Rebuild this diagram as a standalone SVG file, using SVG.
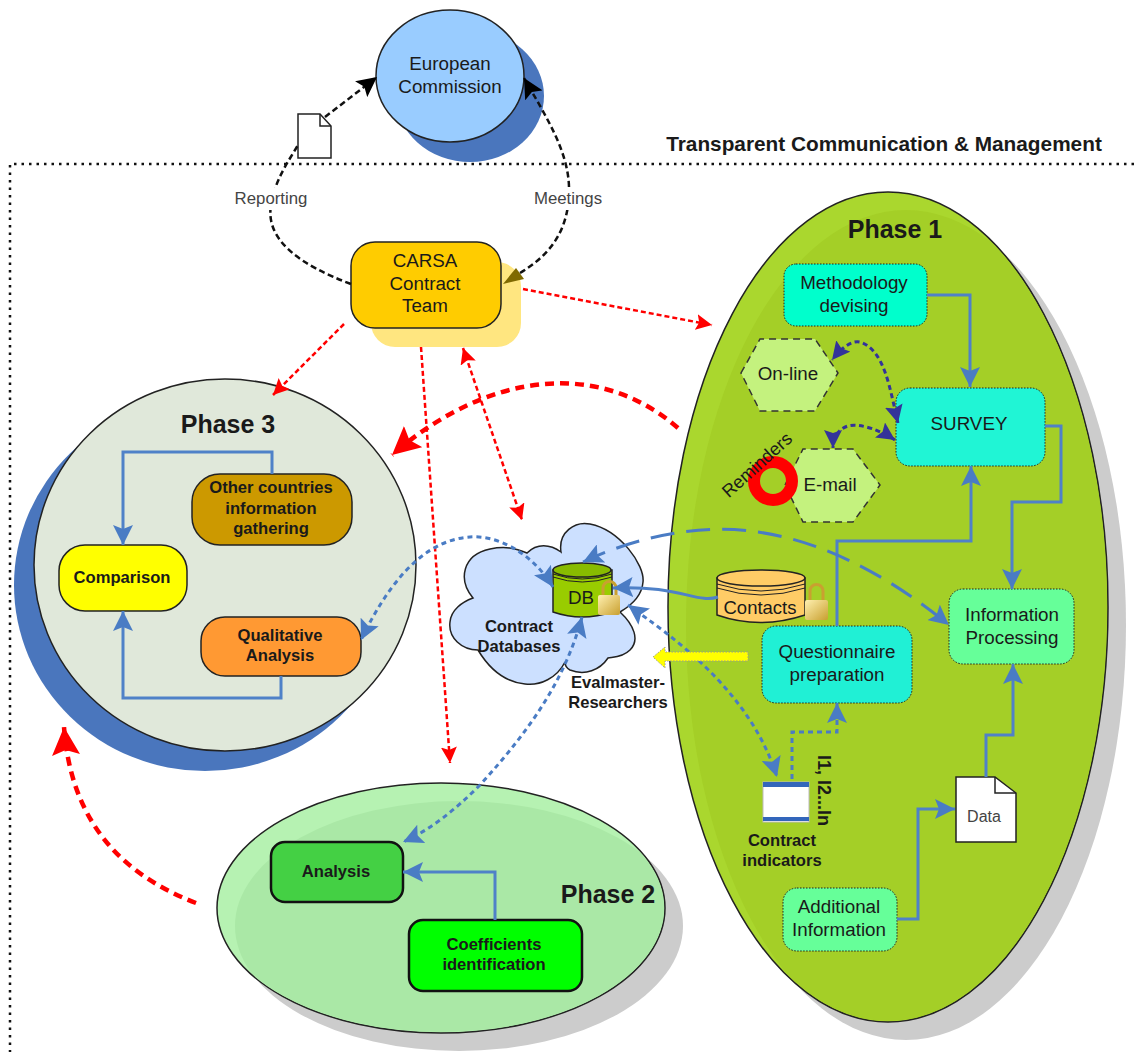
<svg xmlns="http://www.w3.org/2000/svg" width="1134" height="1053" viewBox="0 0 1134 1053">
<style>
text{font-family:"Liberation Sans",Arial,sans-serif;fill:#1a1a1a;text-anchor:middle}
.t{font-size:18.8px}
.s{font-size:16.8px;fill:#444}
.b{font-size:16.6px;font-weight:bold}
.ph{font-size:25px;font-weight:bold}
.o{stroke:#222;stroke-width:1.5}
.dot{stroke:#222;stroke-width:1;stroke-dasharray:1.5 1.5}
.hex{fill:#c4f27e;stroke:#333;stroke-width:1.5;stroke-dasharray:7 5}
.fl{fill:none;stroke:#4f81c8;stroke-width:3}
.bd{fill:none;stroke:#4a7cc4;stroke-width:3;stroke-dasharray:5 4}
.rd{fill:none;stroke:#f00;stroke-width:2.5;stroke-dasharray:5 3}
.rb{fill:none;stroke:#f00;stroke-width:4.5;stroke-dasharray:9 6}
.kd{fill:none;stroke:#111;stroke-width:2.5;stroke-dasharray:6 3.5}
.pd{fill:none;stroke:#33339a;stroke-width:3;stroke-dasharray:5 3.5}
.ld{fill:none;stroke:#4a7cc4;stroke-width:3;stroke-dasharray:24 12}
.bg{fill:#fff}
.shk{fill:none;stroke:#c9a030;stroke-width:3}
</style>
<defs>
<marker id="ab" markerUnits="userSpaceOnUse" markerWidth="22" markerHeight="20" refX="20" refY="10" orient="auto-start-reverse"><path d="M0 0L20 10L0 20L4 10Z" fill="#4a7cc4"/></marker>
<marker id="ak" markerUnits="userSpaceOnUse" markerWidth="22" markerHeight="20" refX="20" refY="10" orient="auto-start-reverse"><path d="M0 0L20 10L0 20L4 10Z" fill="#000"/></marker>
<marker id="ap" markerUnits="userSpaceOnUse" markerWidth="20" markerHeight="18" refX="18" refY="9" orient="auto-start-reverse"><path d="M0 0L18 9L0 18L3 9Z" fill="#33339a"/></marker>
<marker id="ar" markerUnits="userSpaceOnUse" markerWidth="18" markerHeight="16" refX="16" refY="8" orient="auto-start-reverse"><path d="M0 0L16 8L0 16L3 8Z" fill="#f00"/></marker>
<marker id="arb" markerUnits="userSpaceOnUse" markerWidth="30" markerHeight="28" refX="28" refY="14" orient="auto-start-reverse"><path d="M0 0L28 14L0 28L5 14Z" fill="#f00"/></marker>
<linearGradient id="lock" x1="0" y1="0" x2="1" y2="1"><stop offset="0" stop-color="#fff0b0"/><stop offset="1" stop-color="#c9a030"/></linearGradient>
<clipPath id="c1"><ellipse cx="888" cy="607" rx="219" ry="414"/></clipPath>
<clipPath id="c2"><ellipse cx="441" cy="908" rx="223" ry="124"/></clipPath>
</defs>
<rect width="1134" height="1053" fill="#fff"/>
<path d="M1134 164H10V1052" fill="none" stroke="#111" stroke-width="2.5" stroke-dasharray="2.5 5"/>
<text x="884" y="151" style="font-size:20.8px;font-weight:bold">Transparent Communication &amp; Management</text>

<g id="phase1">
<ellipse cx="906" cy="625" rx="220" ry="415" fill="#ccc"/>
<ellipse cx="888" cy="607" rx="220" ry="415" fill="#aad72e" stroke="#222" stroke-width="1.5"/>
<ellipse cx="906" cy="625" rx="220" ry="415" fill="#a4cf27" clip-path="url(#c1)"/>
<text class="ph" x="895" y="238">Phase 1</text>
</g>
<g id="phase3">
<ellipse cx="205" cy="585" rx="191" ry="186" fill="#4a76bd"/>
<ellipse cx="225" cy="565" rx="191" ry="186" fill="#e0e8da" stroke="#222" stroke-width="1.5"/>
<text class="ph" x="228" y="433">Phase 3</text>
</g>
<g id="phase2">
<ellipse cx="459" cy="926" rx="224" ry="125" fill="#ccc"/>
<ellipse cx="441" cy="908" rx="224" ry="125" fill="#b6f2b2" stroke="#222" stroke-width="1.5"/>
<ellipse cx="459" cy="926" rx="224" ry="125" fill="#aae8a6" clip-path="url(#c2)"/>
<text class="ph" x="608" y="903">Phase 2</text>
</g>

<g id="commission">
<ellipse cx="470" cy="96" rx="74" ry="66" fill="#4a76bd"/>
<ellipse cx="450" cy="76" rx="74" ry="66" fill="#99ccff" class="o"/>
<text class="t" x="450" y="70">European</text><text class="t" x="450" y="93">Commission</text>
</g>
<g id="carsa">
<rect x="371" y="262" width="150" height="85" rx="24" fill="#ffe680"/>
<rect x="351" y="242" width="150" height="86" rx="24" fill="#ffcc00" class="o"/>
<text class="t" x="425" y="267">CARSA</text><text class="t" x="425" y="290">Contract</text><text class="t" x="425" y="312">Team</text>
</g>
<g id="doc1">
<path d="M298 114H320L331 126V158H298Z" fill="#fff" stroke="#222" stroke-width="1.5"/>
<path d="M320 114V126H331" fill="none" stroke="#222" stroke-width="1.5"/>
</g>

<g id="methodology"><rect x="784" y="264" width="143" height="62" rx="12" fill="#00ffcc" class="dot"/><text class="t" x="854" y="289">Methodology</text><text class="t" x="854" y="312">devising</text></g>
<g id="online"><path class="hex" d="M741 373L760 339H815L838 373L815 411H760Z"/><text class="t" x="788" y="380">On-line</text></g>
<g id="email"><path class="hex" d="M785 485L803 449H853L880 485L853 522H803Z"/><text class="t" x="830" y="491">E-mail</text></g>
<g id="survey"><rect x="896" y="388" width="149" height="78" rx="14" fill="#20f5d5" class="dot"/><text class="t" x="969" y="430">SURVEY</text></g>
<g id="questionnaire"><rect x="762" y="626" width="150" height="77" rx="14" fill="#20f0d5" class="dot"/><text class="t" x="837" y="658">Questionnaire</text><text class="t" x="837" y="681">preparation</text></g>
<g id="processing"><rect x="949" y="589" width="125" height="75" rx="14" fill="#66ff99" class="dot"/><text class="t" x="1012" y="621">Information</text><text class="t" x="1012" y="644">Processing</text></g>
<g id="additional"><rect x="783" y="888" width="114" height="63" rx="14" fill="#66ff99" class="dot"/><text class="t" x="839" y="913">Additional</text><text class="t" x="839" y="936">Information</text></g>
<g id="data"><path d="M956 777H995L1016 793V842H956Z" fill="#fff" stroke="#222" stroke-width="1.5"/><path d="M995 777V793H1016" fill="none" stroke="#222" stroke-width="1.5"/><text x="984" y="822" style="font-size:16px;fill:#444">Data</text></g>
<g id="reminders">
<circle cx="773" cy="481" r="19" fill="none" stroke="#f00" stroke-width="12"/>
<text class="t" transform="translate(757 465) rotate(-42)" x="0" y="6" style="font-size:18px">Reminders</text>
</g>
<g id="other"><rect x="192" y="474" width="160" height="71" rx="28" fill="#cc9900" class="o"/><text class="b" x="271" y="493">Other countries</text><text class="b" x="271" y="514">information</text><text class="b" x="271" y="534">gathering</text></g>
<g id="comparison"><rect x="59" y="545" width="128" height="66" rx="26" fill="#ffff00" class="o"/><text class="b" x="122" y="583">Comparison</text></g>
<g id="qualitative"><rect x="201" y="617" width="160" height="59" rx="24" fill="#ff9933" class="o"/><text class="b" x="280" y="641">Qualitative</text><text class="b" x="280" y="661">Analysis</text></g>
<g id="analysis"><rect x="271" y="842" width="132" height="60" rx="14" fill="#44d044" stroke="#111" stroke-width="2.5"/><text class="b" x="336" y="877">Analysis</text></g>
<g id="coefficients"><rect x="409" y="920" width="173" height="71" rx="14" fill="#00ff00" stroke="#111" stroke-width="2.5"/><text class="b" x="494" y="950">Coefficients</text><text class="b" x="494" y="970">identification</text></g>

<g id="cloud">
<path d="M473 598C458 580 462 555 490 549C505 546 515 548 527 553C537 543 550 544 561 552C558 532 575 521 590 524C620 530 645 565 643 582C642 595 632 605 620 612C634 625 640 640 630 650C622 658 612 657 608 658C600 670 585 676 570 670C566 668 565 665 565 662C557 678 540 686 525 684C505 682 490 670 478 650C462 650 448 638 450 622C451 610 462 602 473 598Z" fill="#cce0ff" stroke="#222" stroke-width="1.5"/>
<text class="b" x="519" y="632">Contract</text><text class="b" x="519" y="652">Databases</text>
</g>
<g id="db">
<path d="M553 570V612Q582 622 612 612V570Z" fill="#99cc00" stroke="#222" stroke-width="1.5"/>
<ellipse cx="582" cy="570" rx="29" ry="7" fill="#88bb00" stroke="#222" stroke-width="1.5"/>
<path d="M553 574Q582 584 612 574M553 577Q582 587 612 577" fill="none" stroke="#222"/>
<text class="t" x="581" y="604">DB</text>
<path class="shk" d="M603 596V588a6.5 6.5 0 0 1 13 0V596"/><rect x="598" y="595" width="22" height="20" rx="2" fill="url(#lock)"/>
</g>
<g id="contacts">
<path d="M717 578V615Q760 630 805 615V578Z" fill="#ffcc66" stroke="#222" stroke-width="1.5"/>
<ellipse cx="761" cy="578" rx="44" ry="8" fill="#ffcc66" stroke="#222" stroke-width="1.5"/>
<path d="M717 584Q761 598 805 584M717 588Q761 602 805 588" fill="none" stroke="#222"/>
<text x="760" y="614" style="font-size:18.5px">Contacts</text>
<path class="shk" d="M810 601V591a6.5 6.5 0 0 1 13 0V601"/><rect x="805" y="600" width="23" height="20" rx="2" fill="url(#lock)"/>
</g>
<g id="indicators">
<rect x="763" y="782" width="46" height="40" fill="#fff" stroke="#bbb"/><rect x="763" y="782" width="46" height="5" fill="#3366bb"/><rect x="763" y="817" width="46" height="4" fill="#3366bb"/>
<text class="b" x="782" y="846">Contract</text><text class="b" x="782" y="866">indicators</text>
<text class="b" transform="translate(818 755) rotate(90)" style="font-size:18px;text-anchor:start" x="0" y="0">I1, I2...In</text>
</g>
<text id="evalmaster" class="b" x="618" y="688">Evalmaster-</text>
<text class="b" x="618" y="708">Researchers</text>

<g id="connectors">
<path class="kd" d="M351 284C300 265 265 240 271 205C275 180 288 162 298 145"/>
<path class="kd" d="M325 117L377 77" marker-end="url(#ak)"/>
<path class="kd" d="M520 273C550 255 570 230 569 187C568 150 545 115 524 78" marker-end="url(#ak)"/>
<path d="M503 284L516 268L524 279Z" fill="#806a00"/>
<path class="rd" d="M523 289L712 325" marker-end="url(#ar)"/>
<path class="rd" d="M344 324L273 395" marker-end="url(#ar)"/>
<path class="rd" d="M421 347L450 763" marker-end="url(#ar)"/>
<path class="rd" d="M463 348L522 520" marker-start="url(#ar)" marker-end="url(#ar)"/>
<path class="rb" d="M678 428C600 360 490 370 392 455" marker-end="url(#arb)"/>
<path class="rb" d="M196 903C110 870 70 810 64 727" marker-end="url(#arb)"/>
<path class="fl" d="M927 295H970V387" marker-end="url(#ab)"/>
<path class="fl" d="M1045 426H1061V502H1012V589" marker-end="url(#ab)"/>
<path class="fl" d="M837 626V541H971V466" marker-end="url(#ab)"/>
<path class="fl" d="M897 919H918V809H955" marker-end="url(#ab)"/>
<path class="fl" d="M986 777V735H1013V664" marker-end="url(#ab)"/>
<path class="fl" d="M272 474V452H123V545" marker-end="url(#ab)"/>
<path class="fl" d="M281 676V698H123V611" marker-end="url(#ab)"/>
<path class="fl" d="M495 920V872H403" marker-end="url(#ab)"/>
<path class="fl" d="M718 597C697 604 680 585 613 588" marker-end="url(#ab)"/>
<path class="pd" d="M898 423C890 390 885 350 860 342C850 340 840 350 832 360" marker-start="url(#ap)" marker-end="url(#ap)"/>
<path class="pd" d="M895 440C880 430 860 423 848 426C838 429 833 438 833 448" marker-start="url(#ap)" marker-end="url(#ap)"/>
<path class="bd" d="M792 779V732H837V703" marker-end="url(#ab)" stroke-dasharray="4 3"/>
<path class="bd" d="M628 605C670 635 750 690 777 777" marker-start="url(#ab)" marker-end="url(#ab)"/>
<path class="bd" d="M582 617C565 680 530 730 480 785C455 810 430 830 403 842" marker-start="url(#ab)" marker-end="url(#ab)"/>
<path class="bd" d="M553 587C530 550 495 535 470 537C420 540 385 590 361 640" marker-start="url(#ab)" marker-end="url(#ab)"/>
<path class="ld" d="M583 562C640 535 700 525 750 531C830 540 900 585 949 625" marker-start="url(#ab)" marker-end="url(#ab)"/>
<path d="M748 652H665V647L653 657L665 668V661H748Z" fill="#ffff00" stroke="#999" stroke-dasharray="1.5 1.5"/>
</g>
<g id="conn-labels">
<rect x="232" y="188" width="78" height="22" class="bg"/><text class="s" x="271" y="204">Reporting</text>
<rect x="532" y="188" width="74" height="22" class="bg"/><text class="s" x="568" y="204">Meetings</text>
</g>
</svg>
